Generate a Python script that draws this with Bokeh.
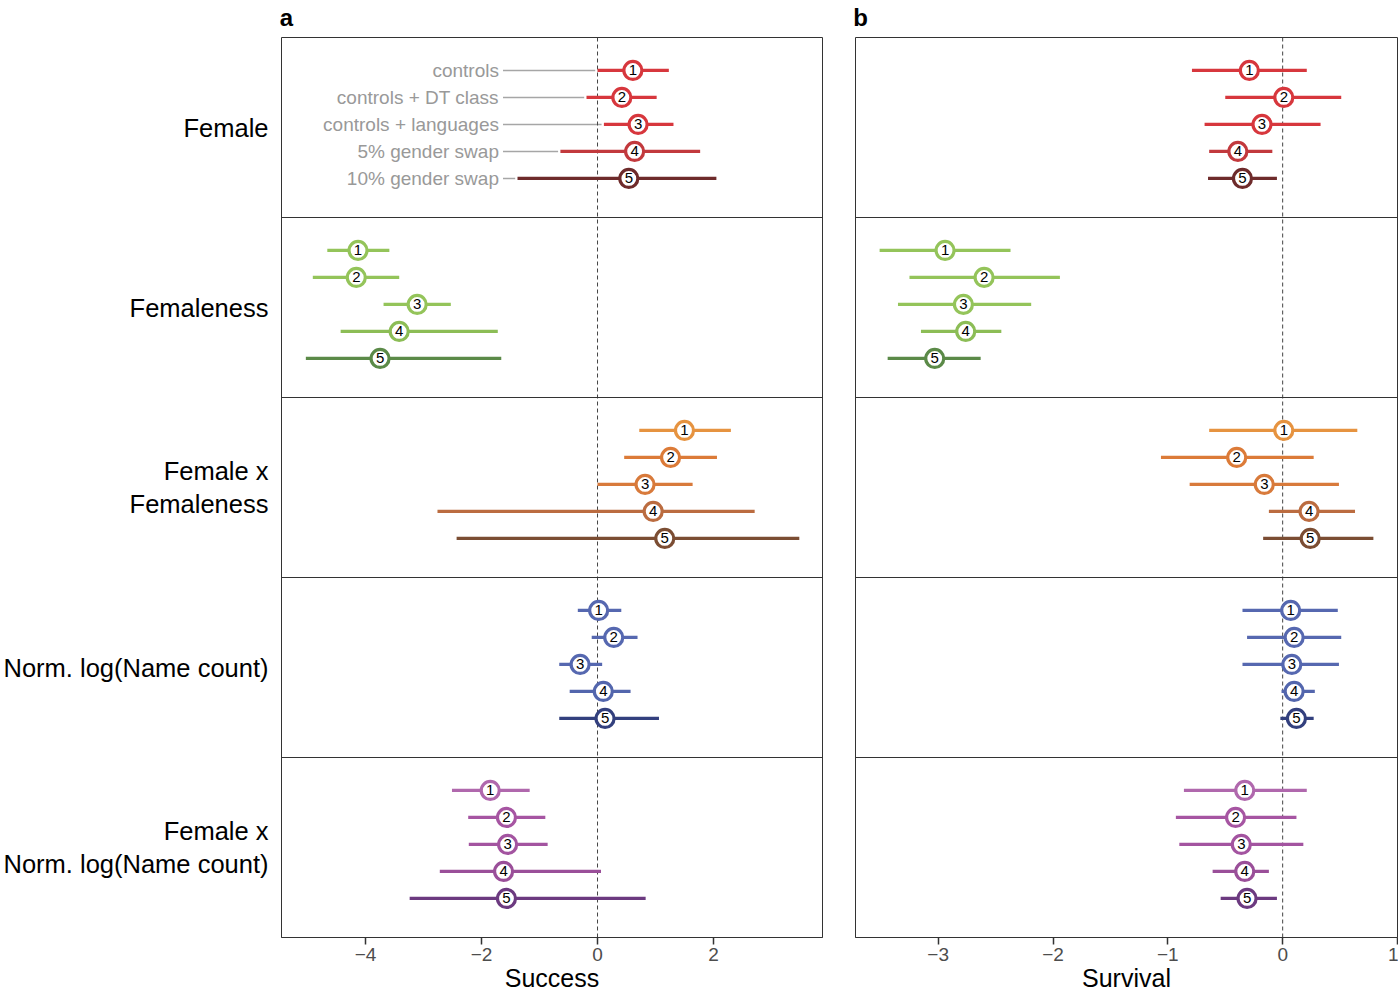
from bokeh.plotting import figure
from bokeh.models import (Range1d, FixedTicker, Span, ColumnDataSource,
                          LinearAxis, CustomJSTickFormatter)
from bokeh.layouts import row
from bokeh.embed import file_html
from bokeh.resources import INLINE
from bokeh.core.properties import value

predictors = ["Female", "Femaleness", "Female x\nFemaleness",
              "Norm. log(Name count)", "Female x\nNorm. log(Name count)"]
model_names = ["controls", "controls + DT class", "controls + languages",
               "5% gender swap", "10% gender swap"]
model_ids = ["1", "2", "3", "4", "5"]

# Panel a: Success  (rows = predictors, columns = models 1..5)
success_est = [[0.61, 0.42, 0.70, 0.64, 0.54],
               [-4.13, -4.16, -3.11, -3.42, -3.75],
               [1.50, 1.26, 0.82, 0.96, 1.16],
               [0.02, 0.28, -0.30, 0.10, 0.13],
               [-1.85, -1.57, -1.55, -1.62, -1.57]]
success_lo = [[0.00, -0.19, 0.11, -0.64, -1.38],
              [-4.66, -4.91, -3.69, -4.43, -5.03],
              [0.72, 0.46, 0.00, -2.76, -2.43],
              [-0.34, -0.10, -0.66, -0.48, -0.66],
              [-2.51, -2.23, -2.22, -2.72, -3.24]]
success_hi = [[1.23, 1.02, 1.31, 1.77, 2.05],
              [-3.59, -3.42, -2.53, -1.72, -1.66],
              [2.30, 2.06, 1.64, 2.71, 3.48],
              [0.41, 0.69, 0.08, 0.57, 1.06],
              [-1.17, -0.90, -0.86, 0.06, 0.83]]

# Panel b: Survival
survival_est = [[-0.29, 0.01, -0.18, -0.39, -0.35],
                [-2.94, -2.60, -2.78, -2.76, -3.03],
                [0.01, -0.40, -0.16, 0.23, 0.24],
                [0.07, 0.10, 0.08, 0.10, 0.12],
                [-0.33, -0.41, -0.36, -0.33, -0.31]]
survival_lo = [[-0.79, -0.50, -0.68, -0.64, -0.65],
               [-3.51, -3.25, -3.35, -3.15, -3.44],
               [-0.64, -1.06, -0.81, -0.12, -0.17],
               [-0.35, -0.31, -0.35, -0.01, -0.02],
               [-0.86, -0.93, -0.90, -0.61, -0.54]]
survival_hi = [[0.21, 0.51, 0.33, -0.09, -0.05],
               [-2.37, -1.94, -2.19, -2.45, -2.63],
               [0.65, 0.27, 0.49, 0.63, 0.79],
               [0.48, 0.51, 0.49, 0.28, 0.27],
               [0.21, 0.12, 0.18, -0.12, -0.05]]

colors = [["#d7373d", "#d7373d", "#d7373d", "#c2393d", "#6e2b2b"],
          ["#94c45a", "#94c45a", "#94c45a", "#8cbd56", "#5b8a48"],
          ["#e69340", "#dc7b38", "#d87a3b", "#bb6c40", "#7b4d33"],
          ["#5668b0", "#5668b0", "#5668b0", "#5366ad", "#33407e"],
          ["#b068ad", "#a655a2", "#a354a0", "#9a4f99", "#6c3a80"]]

FONT = "Liberation Sans"
H = 995
ROW_STEP = 0.15


def make_source(est, lo, hi):
    d = dict(y=[], est=[], lo=[], hi=[], color=[], label=[])
    for r in range(len(predictors)):
        for i in range(len(model_ids)):
            d["y"].append(r + (i - 2) * ROW_STEP - 0.017)
            d["est"].append(est[r][i])
            d["lo"].append(lo[r][i])
            d["hi"].append(hi[r][i])
            d["color"].append(colors[r][i])
            d["label"].append(model_ids[i])
    return ColumnDataSource(d)


def make_panel(title, xlabel, xr, ticks, est, lo, hi, width, mbl, mbr, show_y):
    p = figure(width=width, height=H, x_range=Range1d(*xr),
               y_range=Range1d(4.5, -0.5), output_backend="svg",
               toolbar_location=None, min_border_left=mbl,
               min_border_right=mbr, min_border_top=37, min_border_bottom=58)
    p.xgrid.visible = False
    p.ygrid.visible = False
    p.outline_line_color = "#333333"
    p.outline_line_width = 1
    p.background_fill_color = "white"
    p.border_fill_color = "white"

    # bottom x axis
    ax = p.below[0]
    ax.ticker = FixedTicker(ticks=ticks)
    ax.major_label_overrides = {t: (("\u2212" + str(abs(t))) if t < 0 else str(t)) for t in ticks}
    ax.minor_tick_line_color = None
    ax.major_tick_in = 0
    ax.major_tick_out = 7
    ax.major_tick_line_color = "#333333"
    ax.major_tick_line_width = 1.5
    ax.axis_line_color = "#333333"
    ax.major_label_text_font = FONT
    ax.major_label_text_font_size = "19px"
    ax.major_label_text_color = "#4d4d4d"
    ax.major_label_standoff = 3
    ax.axis_label = xlabel
    ax.axis_label_text_font = FONT
    ax.axis_label_text_font_size = "25px"
    ax.axis_label_text_font_style = "normal"
    ax.axis_label_text_color = "black"
    ax.axis_label_standoff = 0

    # panel letter: a tick label of an invisible axis above the frame
    frame_w = width - mbl - mbr
    nudge = (xr[1] - xr[0]) / frame_w * 5
    top = LinearAxis(ticker=FixedTicker(ticks=[xr[0] + nudge]),
                     formatter=CustomJSTickFormatter(code="return '%s';" % title))
    top.axis_line_color = None
    top.major_tick_line_color = None
    top.minor_tick_line_color = None
    top.major_tick_in = 0
    top.major_tick_out = 0
    top.major_label_text_font = FONT
    top.major_label_text_font_size = "24px"
    top.major_label_text_font_style = "bold"
    top.major_label_text_color = "black"
    top.major_label_text_align = "left"
    top.major_label_standoff = 7
    p.add_layout(top, "above")

    # y axis
    ay = p.left[0]
    if show_y:
        ay.ticker = FixedTicker(ticks=list(range(len(predictors))))
        ay.major_label_overrides = {i: s for i, s in enumerate(predictors)}
        ay.major_tick_in = 0
        ay.major_tick_out = 0
        ay.minor_tick_line_color = None
        ay.axis_line_color = None
        ay.major_label_text_font = FONT
        ay.major_label_text_font_size = "25.5px"
        ay.major_label_text_color = "black"
        ay.major_label_standoff = 13
    else:
        ay.visible = False

    # row separators and zero line
    for b in range(1, len(predictors)):
        p.add_layout(Span(location=b - 0.5, dimension="width",
                          line_color="#333333", line_width=1))
    p.add_layout(Span(location=0, dimension="height", line_color="#444444",
                      line_width=1, line_dash="4 3", level="underlay"))

    src = make_source(est, lo, hi)
    p.segment(x0="lo", y0="y", x1="hi", y1="y", source=src,
              line_color="color", line_width=3.3)
    p.scatter(x="est", y="y", source=src, size=18, fill_color="white",
              line_color="color", line_width=3.2)
    p.text(x="est", y="y", text="label", source=src, text_align="center",
           text_baseline="middle", text_font_size="15px",
           text_font=value(FONT), text_color="black")
    return p


pa = make_panel("a", "Success", (-5.45, 3.88), [-4, -2, 0, 2],
                success_est, success_lo, success_hi, 838, 281, 16, True)
pb = make_panel("b", "Survival", (-3.72, 1.0), [-3, -2, -1, 0, 1],
                survival_est, survival_lo, survival_hi, 560, 17, 1, False)

# model labels with connector lines in panel a, Female row
LABEL_X = -1.70
CONN_X = -1.63
lab = dict(y=[], x0=[], x1=[], name=[])
for i, name in enumerate(model_names):
    lab["y"].append((i - 2) * ROW_STEP - 0.017)
    lab["x0"].append(CONN_X)
    lab["x1"].append(success_lo[0][i] - 0.04)
    lab["name"].append(name)
lsrc = ColumnDataSource(lab)
pa.segment(x0="x0", y0="y", x1="x1", y1="y", source=lsrc,
           line_color="#a6a6a6", line_width=1.6, level="underlay")
pa.text(x=LABEL_X, y="y", text="name", source=lsrc, text_align="right",
        text_baseline="middle", text_font_size="19px",
        text_font=value(FONT), text_color="#999999")

layout = row(pa, pb)
open("out.html", "w").write(file_html(layout, INLINE))
